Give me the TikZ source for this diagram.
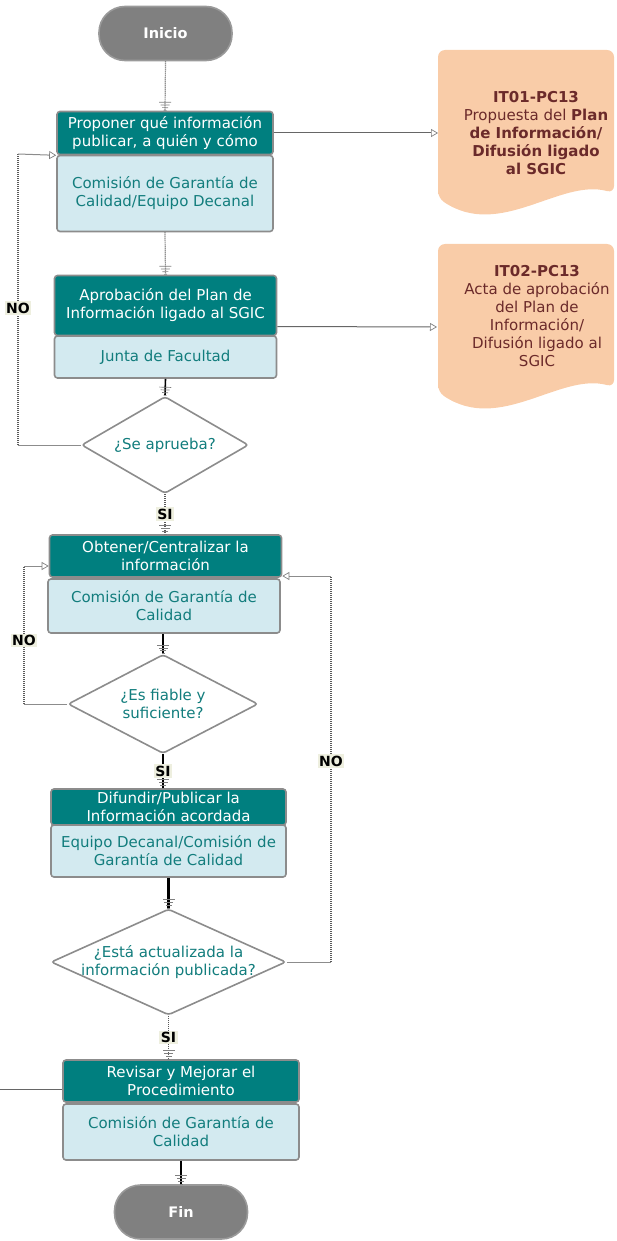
\documentclass[tikz,border=0pt]{standalone}
\usepackage{fontspec}
\setmainfont{DejaVu Sans}
\usetikzlibrary{shapes.geometric,arrows.meta}

\definecolor{tealbox}{HTML}{007F7F}
\definecolor{lightbox}{HTML}{D3EAF0}
\definecolor{boxline}{HTML}{8C8C8C}
\definecolor{termfill}{HTML}{808080}
\definecolor{termline}{HTML}{9A9A9A}
\definecolor{docfill}{HTML}{F9CCA8}
\definecolor{doctext}{HTML}{6B2A2A}
\definecolor{labelbg}{HTML}{EEEFDF}
\definecolor{subtext}{HTML}{127D7D}

\tikzset{
  taskhead/.style={draw=boxline,line width=1.6pt,fill=tealbox,rounded corners=3pt,text=white,align=center,inner sep=0pt},
  taskbody/.style={draw=boxline,line width=1.6pt,fill=lightbox,rounded corners=3pt,text=subtext,align=center,inner sep=0pt},
  decision/.style={diamond,aspect=2.2,draw=boxline,line width=1.6pt,fill=white,rounded corners=3pt,text=subtext,align=center,inner sep=-12pt},
  terminal/.style={draw=termline,line width=1.6pt,fill=termfill,rounded corners=26pt,text=white,minimum width=133pt,minimum height=54pt,font=\fontsize{14.5}{18}\selectfont\bfseries},
  doctxt/.style={text=doctext,align=center,inner sep=0pt},
  yesno/.style={fill=labelbg,text=black,inner sep=1.5pt,font=\fontsize{14}{16}\selectfont\bfseries},
  dotline/.style={draw=black!65,line width=1.2pt,dash pattern=on 1pt off 1pt},
  greyline/.style={draw=black!45,line width=1pt},
  darkline/.style={draw=black!60,line width=1pt},
  solidline/.style={draw=black,line width=1.6pt},
  thickline/.style={draw=black,line width=2.6pt},
  vtip/.style={-{Bar[width=12pt,line width=.7pt,sep=2pt,color=gray]Bar[width=9pt,line width=.7pt,sep=2pt,color=gray]Bar[width=6pt,line width=.7pt,sep=2pt,color=gray]Bar[width=3pt,line width=.7pt,color=gray]}},
  htip/.style={-{Triangle[open,length=7pt,width=8pt,line width=.7pt,color=gray]}}
}

\begin{document}
\begin{tikzpicture}[x=1pt,y=-1pt,every node/.append style={font=\fontsize{15}{18}\selectfont}]

\useasboundingbox (0,0) rectangle (616,1241);

% documents
\foreach \dy in {0,194}{
  \fill[docfill,rounded corners=7pt,shift={(0,\dy)}] (438,198) -- (438,50) -- (614,50) -- (614,193)
    .. controls (560,178) and (500,240) .. (438,198) -- cycle;
}
\node[doctxt] (doc1) at (536,133) {\textbf{IT01-PC13}\\Propuesta del \textbf{Plan}\\\textbf{de Información/}\\\textbf{Difusión ligado}\\\textbf{al SGIC}};
\node[doctxt] (doc2) at (537,316) {\textbf{IT02-PC13}\\Acta de aprobación\\del Plan de\\Información/\\Difusión ligado al\\SGIC};
\coordinate (doc1in) at (438,133);
\coordinate (doc2in) at (437,327);

% terminals
\node[terminal] (inicio) at (165.5,33.5) {Inicio};
\node[terminal] (fin) at (181,1212) {Fin};

% tasks
\node[taskhead,minimum width=216pt,minimum height=43pt] (t1) at (165,133) {Proponer qué información\\publicar, a quién y cómo};
\node[taskbody,minimum width=216pt,minimum height=76pt] (s1) at (165,193.5) {Comisión de Garantía de\\Calidad/Equipo Decanal};

\node[taskhead,minimum width=222pt,minimum height=60pt] (t2) at (165.5,305.5) {Aprobación del Plan de\\Información ligado al SGIC};
\node[taskbody,minimum width=222pt,minimum height=42pt] (s2) at (165.5,357) {Junta de Facultad};

\node[taskhead,minimum width=232pt,minimum height=42pt] (t3) at (165.5,556) {Obtener/Centralizar la\\información};
\node[taskbody,minimum width=232pt,minimum height=54pt] (s3) at (164,606) {Comisión de Garantía de\\Calidad};

\node[taskhead,minimum width=235pt,minimum height=36pt] (t4) at (168.5,807) {Difundir/Publicar la\\Información acordada};
\node[taskbody,minimum width=235pt,minimum height=52pt] (s4) at (168.5,851) {Equipo Decanal/Comisión de\\Garantía de Calidad};

\node[taskhead,minimum width=236pt,minimum height=42pt] (t5) at (181,1081) {Revisar y Mejorar el\\Procedimiento};
\node[taskbody,minimum width=236pt,minimum height=56pt] (s5) at (181,1132) {Comisión de Garantía de\\Calidad};

% decisions
\node[decision,minimum width=167pt,minimum height=97pt] (d1) at (165,445) {¿Se aprueba?};
\node[decision,minimum width=190pt,minimum height=99pt] (d2) at (163,704) {¿Es fiable y\\suficiente?};
\node[decision,minimum width=235pt,minimum height=106pt] (d3) at (168.5,962) {¿Está actualizada la\\información publicada?};

% main flow
\draw[dotline,vtip] (inicio.south) -- (t1.north);
\draw[dotline,vtip] (s1.south) -- (t2.north);
\draw[solidline,vtip] (s2.south) -- (d1.north);
\draw[dotline,vtip] (d1.south) -- node[yesno] {SI} (d1.south |- t3.north);
\draw[solidline,vtip] (s3.south -| d2.north) -- (d2.north);
\draw[solidline,vtip] (d2.south) -- node[yesno] {SI} (d2.south |- t4.north);
\draw[thickline,vtip] (s4.south) -- (d3.north);
\draw[dotline,vtip] (d3.south) -- node[yesno] {SI} (d3.south |- t5.north);
\draw[thickline,vtip] (s5.south) -- (fin.north);

% outputs
\draw[darkline,htip] (t1.east) -- (doc1in);
\draw[darkline,htip] ([yshift=-21pt]t2.east) -- (doc2in);

% loops back
\coordinate (no1b) at (18,445);
\coordinate (no1t) at (18,154);
\draw[greyline] (d1.west) -- (no1b);
\draw[dotline] (no1b) -- node[yesno,pos=.47] {NO} (no1t);
\draw[greyline,htip] (no1t) -- (t1.south west);

\coordinate (no2b) at (24,704);
\coordinate (no2t) at (24,566);
\draw[greyline] (d2.west) -- (no2b);
\draw[dotline] (no2b) -- node[yesno,pos=.46] {NO} (no2t);
\draw[greyline,htip] (no2t) -- ([yshift=-10pt]t3.west);

\coordinate (no3b) at (331,962);
\coordinate (no3t) at (331,576);
\draw[greyline] (d3.east) -- (no3b);
\draw[dotline] (no3b) -- node[yesno,pos=.52] {NO} (no3t);
\draw[greyline,htip] (no3t) -- ([yshift=-20pt]t3.east);

\coordinate (ext) at (0,1089);
\draw[darkline] (ext) -- ([yshift=-8pt]t5.west);

\end{tikzpicture}
\end{document}
